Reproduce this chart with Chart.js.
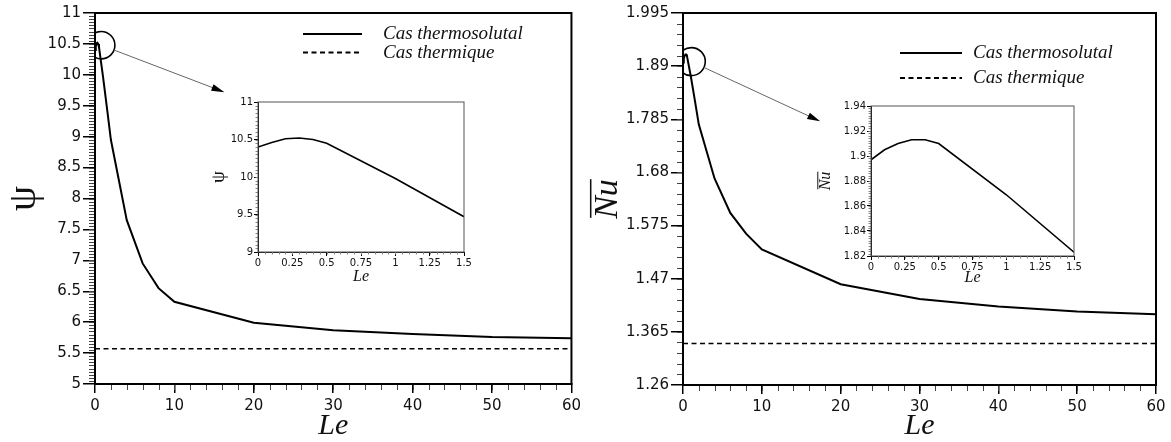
<!DOCTYPE html>
<html>
<head>
<meta charset="utf-8">
<script src="https://cdn.jsdelivr.net/npm/chart.js"></script>
<style>
  body { margin: 0; background: #fff; }
  #wrap { position: relative; width: 1171px; height: 442px; }
  canvas { position: absolute; }
</style>
</head>
<body>
<div id="wrap">
  <canvas id="psiMain" width="585" height="442" style="left:0;top:0"></canvas>
  <canvas id="nuMain" width="586" height="442" style="left:585px;top:0"></canvas>
  <canvas id="psiInset" width="270" height="195" style="left:205px;top:95px"></canvas>
  <canvas id="nuInset" width="270" height="195" style="left:815px;top:99px"></canvas>
</div>
<script>
// Le values of the thermosolutal runs
const le = [0, 0.1, 0.2, 0.3, 0.4, 0.5, 1, 1.5, 2, 4, 6, 8, 10, 20, 30, 40, 50, 60];
const psiThermosolutal = [10.40, 10.46, 10.51, 10.52, 10.50, 10.45, 9.98, 9.47, 8.95, 7.65, 6.95, 6.55, 6.33, 5.99, 5.87, 5.81, 5.76, 5.74];
const nuThermosolutal = [1.897, 1.905, 1.910, 1.913, 1.913, 1.910, 1.869, 1.823, 1.775, 1.668, 1.600, 1.559, 1.528, 1.459, 1.430, 1.415, 1.405, 1.400];

// thermal case does not depend on Le
const leThermique = [0, 60];
const psiThermique = [5.57, 5.57];
const nuThermique = [1.342, 1.342];

const leTicks = [0, 10, 20, 30, 40, 50, 60];
const psiTicks = [5, 5.5, 6, 6.5, 7, 7.5, 8, 8.5, 9, 9.5, 10, 10.5, 11];
const nuTicks = [1.26, 1.365, 1.47, 1.575, 1.68, 1.785, 1.89, 1.995];
const leInsetTicks = [0, 0.25, 0.5, 0.75, 1, 1.25, 1.5];
const psiInsetTicks = [9, 9.5, 10, 10.5, 11];
const nuInsetTicks = [1.82, 1.84, 1.86, 1.88, 1.9, 1.92, 1.94];

Chart.defaults.font.family = 'DejaVu Sans';
Chart.defaults.color = '#111';

const pts = (xs, ys) => xs.map((x, i) => ({ x: x, y: ys[i] }));

function axis(ticks, o) {
  return {
    type: 'linear',
    min: ticks[0],
    max: ticks[ticks.length - 1],
    afterBuildTicks: s => { s.ticks = ticks.map(v => ({ value: v })); },
    afterFit: s => {
      if (o.width) s.width = o.width;
      if (o.height) s.height = o.height;
    },
    border: { color: '#000', width: o.border },
    grid: { drawOnChartArea: false, tickLength: o.tick, color: '#000', lineWidth: o.tickWidth },
    ticks: { autoSkip: false, maxRotation: 0, padding: o.pad, color: '#111', font: { size: o.size }, callback: v => String(v) },
    title: o.title || { display: false }
  };
}

// minor ticks, closed frame, zoom circle + arrow, legend, overbar title
const figure = {
  id: 'figure',
  afterDraw(chart, args, o) {
    const ctx = chart.ctx, a = chart.chartArea;
    const sx = chart.scales.x, sy = chart.scales.y;
    ctx.save();

    ctx.strokeStyle = o.minorColor;
    ctx.lineWidth = 1;
    ctx.beginPath();
    let n = Math.round((sx.max - sx.min) / o.minorX);
    for (let i = 1; i < n; i++) {
      const p = Math.round(sx.getPixelForValue(sx.min + i * o.minorX)) + 0.5;
      ctx.moveTo(p, a.bottom);
      ctx.lineTo(p, a.bottom + o.minorLen);
    }
    n = Math.round((sy.max - sy.min) / o.minorY);
    for (let i = 1; i < n; i++) {
      const p = Math.round(sy.getPixelForValue(sy.min + i * o.minorY)) + 0.5;
      ctx.moveTo(a.left - o.minorLen, p);
      ctx.lineTo(a.left, p);
    }
    ctx.stroke();

    ctx.strokeStyle = o.frameColor;
    ctx.lineWidth = o.frame;
    ctx.strokeRect(a.left, a.top, a.right - a.left, a.bottom - a.top);

    if (o.mark) {
      const m = o.mark;
      const cx = sx.getPixelForValue(m.x), cy = sy.getPixelForValue(m.y);
      const tx = sx.getPixelForValue(m.tx), ty = sy.getPixelForValue(m.ty);
      ctx.save();
      ctx.beginPath();
      ctx.rect(a.left, a.top, a.right - a.left, a.bottom - a.top);
      ctx.clip();
      ctx.beginPath();
      ctx.arc(cx, cy, m.r, 0, Math.PI * 2);
      ctx.strokeStyle = '#000';
      ctx.lineWidth = 1.6;
      ctx.stroke();
      ctx.restore();

      const ang = Math.atan2(ty - cy, tx - cx);
      const x0 = cx + m.r * Math.cos(ang), y0 = cy + m.r * Math.sin(ang);
      ctx.beginPath();
      ctx.moveTo(x0, y0);
      ctx.lineTo(tx - 10 * Math.cos(ang), ty - 10 * Math.sin(ang));
      ctx.strokeStyle = '#666';
      ctx.lineWidth = 1;
      ctx.stroke();
      ctx.beginPath();
      ctx.moveTo(tx, ty);
      ctx.lineTo(tx - 13 * Math.cos(ang) + 3.5 * Math.sin(ang), ty - 13 * Math.sin(ang) - 3.5 * Math.cos(ang));
      ctx.lineTo(tx - 13 * Math.cos(ang) - 3.5 * Math.sin(ang), ty - 13 * Math.sin(ang) + 3.5 * Math.cos(ang));
      ctx.closePath();
      ctx.fillStyle = '#000';
      ctx.fill();
    }

    if (o.legend) {
      const L = o.legend;
      ctx.font = 'italic 19px "Liberation Serif"';
      ctx.textBaseline = 'middle';
      ctx.fillStyle = '#111';
      chart.data.datasets.forEach((ds, i) => {
        const y = a.top + L.y + i * L.gap;
        const x = a.left + L.x;
        ctx.beginPath();
        ctx.setLineDash(ds.borderDash || []);
        ctx.moveTo(x, y);
        ctx.lineTo(x + L.len, y);
        ctx.strokeStyle = '#000';
        ctx.lineWidth = 2;
        ctx.stroke();
        ctx.setLineDash([]);
        ctx.fillText(ds.label, x + L.len + L.textGap, y);
      });
    }

    if (o.barTitle) {
      const T = o.barTitle;
      ctx.translate(T.x, (a.top + a.bottom) / 2);
      ctx.rotate(-Math.PI / 2);
      ctx.font = 'italic ' + T.size + 'px "Liberation Serif"';
      ctx.textAlign = 'center';
      ctx.textBaseline = 'alphabetic';
      ctx.fillStyle = '#111';
      const w = ctx.measureText(T.text).width;
      ctx.fillText(T.text, 0, T.size * 0.33);
      ctx.beginPath();
      ctx.moveTo(-w / 2 + 1, -T.size * 0.45);
      ctx.lineTo(w / 2, -T.size * 0.45);
      ctx.strokeStyle = '#111';
      ctx.lineWidth = Math.max(1, T.size / 22);
      ctx.stroke();
    }
    ctx.restore();
  }
};

const serif = (size) => ({ family: 'Liberation Serif', size: size, style: 'italic', lineHeight: 1 });

function mainChart(id, ys, yThermique, yTicks, o) {
  return new Chart(document.getElementById(id), {
    type: 'line',
    data: {
      datasets: [
        { label: 'Cas thermosolutal', data: pts(le, ys), borderColor: '#000', borderWidth: 2, pointRadius: 0, tension: 0 },
        { label: 'Cas thermique', data: pts(leThermique, yThermique), borderColor: '#000', borderWidth: 1.4, borderDash: [5, 3.5], pointRadius: 0 }
      ]
    },
    options: {
      responsive: false,
      devicePixelRatio: 1,
      animation: false,
      layout: { padding: { top: o.top, right: o.right, left: 0, bottom: 0 } },
      plugins: {
        legend: { display: false },
        tooltip: { enabled: false },
        figure: {
          minorX: 2, minorY: o.minorY, minorLen: 6, minorColor: '#444', frame: 2, frameColor: '#000',
          mark: o.mark, legend: o.legend, barTitle: o.barTitle
        }
      },
      scales: {
        x: axis(leTicks, {
          height: o.xHeight, border: 2, tick: 9, tickWidth: 1.5, pad: 4, size: 15,
          title: { display: true, text: 'Le', font: serif(30), color: '#111', padding: { top: 0, bottom: 1 } }
        }),
        y: axis(yTicks, { width: o.yWidth, border: 2, tick: 12, tickWidth: 1.5, pad: 2, size: 15, title: o.yTitle })
      }
    },
    plugins: [figure]
  });
}

function insetChart(id, ys, yTicks, o) {
  return new Chart(document.getElementById(id), {
    type: 'line',
    data: {
      datasets: [
        { label: 'Cas thermosolutal', data: pts(le, ys), borderColor: '#000', borderWidth: 1.6, pointRadius: 0, tension: 0 }
      ]
    },
    options: {
      responsive: false,
      devicePixelRatio: 1,
      animation: false,
      layout: { padding: { top: 7, right: o.right, left: 0, bottom: 0 } },
      plugins: {
        legend: { display: false },
        tooltip: { enabled: false },
        figure: { minorX: 0.05, minorY: o.minorY, minorLen: 2.5, minorColor: '#888', frame: 1, frameColor: '#555', barTitle: o.barTitle }
      },
      scales: {
        x: axis(leInsetTicks, {
          height: 38, border: 1, tick: 4, tickWidth: 1, pad: 1, size: 10,
          title: { display: true, text: 'Le', font: serif(16), color: '#111', padding: { top: 0, bottom: o.lePad } }
        }),
        y: axis(yTicks, { width: o.yWidth, border: 1, tick: 4, tickWidth: 1, pad: 1, size: 10, title: o.yTitle })
      }
    },
    plugins: [figure]
  });
}

mainChart('psiMain', psiThermosolutal, psiThermique, psiTicks, {
  top: 13, right: 12, xHeight: 58, yWidth: 95, minorY: 0.05,
  mark: { x: 0.78, y: 10.48, r: 13.7, tx: 16.3, ty: 9.72 },
  legend: { x: 208, y: 21, gap: 18.5, len: 59, textGap: 21 },
  yTitle: { display: true, text: 'ψ', font: { family: 'Liberation Serif', size: 40, lineHeight: 1 }, color: '#111', padding: { top: 4, bottom: 0 } }
});

mainChart('nuMain', nuThermosolutal, nuThermique, nuTicks, {
  top: 13, right: 15, xHeight: 57, yWidth: 98, minorY: 0.021,
  mark: { x: 1.05, y: 1.899, r: 14, tx: 17.4, ty: 1.781 },
  legend: { x: 217, y: 40, gap: 25, len: 62, textGap: 11 },
  barTitle: { text: 'Nu', size: 34, x: 21 }
});

insetChart('psiInset', psiThermosolutal, psiInsetTicks, {
  right: 11, yWidth: 53, minorY: 0.05, lePad: 5,
  yTitle: { display: true, text: 'ψ', font: { family: 'Liberation Serif', size: 19, lineHeight: 1 }, color: '#111', padding: { top: 5, bottom: 0 } }
});

insetChart('nuInset', nuThermosolutal, nuInsetTicks, {
  right: 11, yWidth: 56, minorY: 0.002, lePad: 8,
  barTitle: { text: 'Nu', size: 16, x: 10 }
});
</script>
</body>
</html>
